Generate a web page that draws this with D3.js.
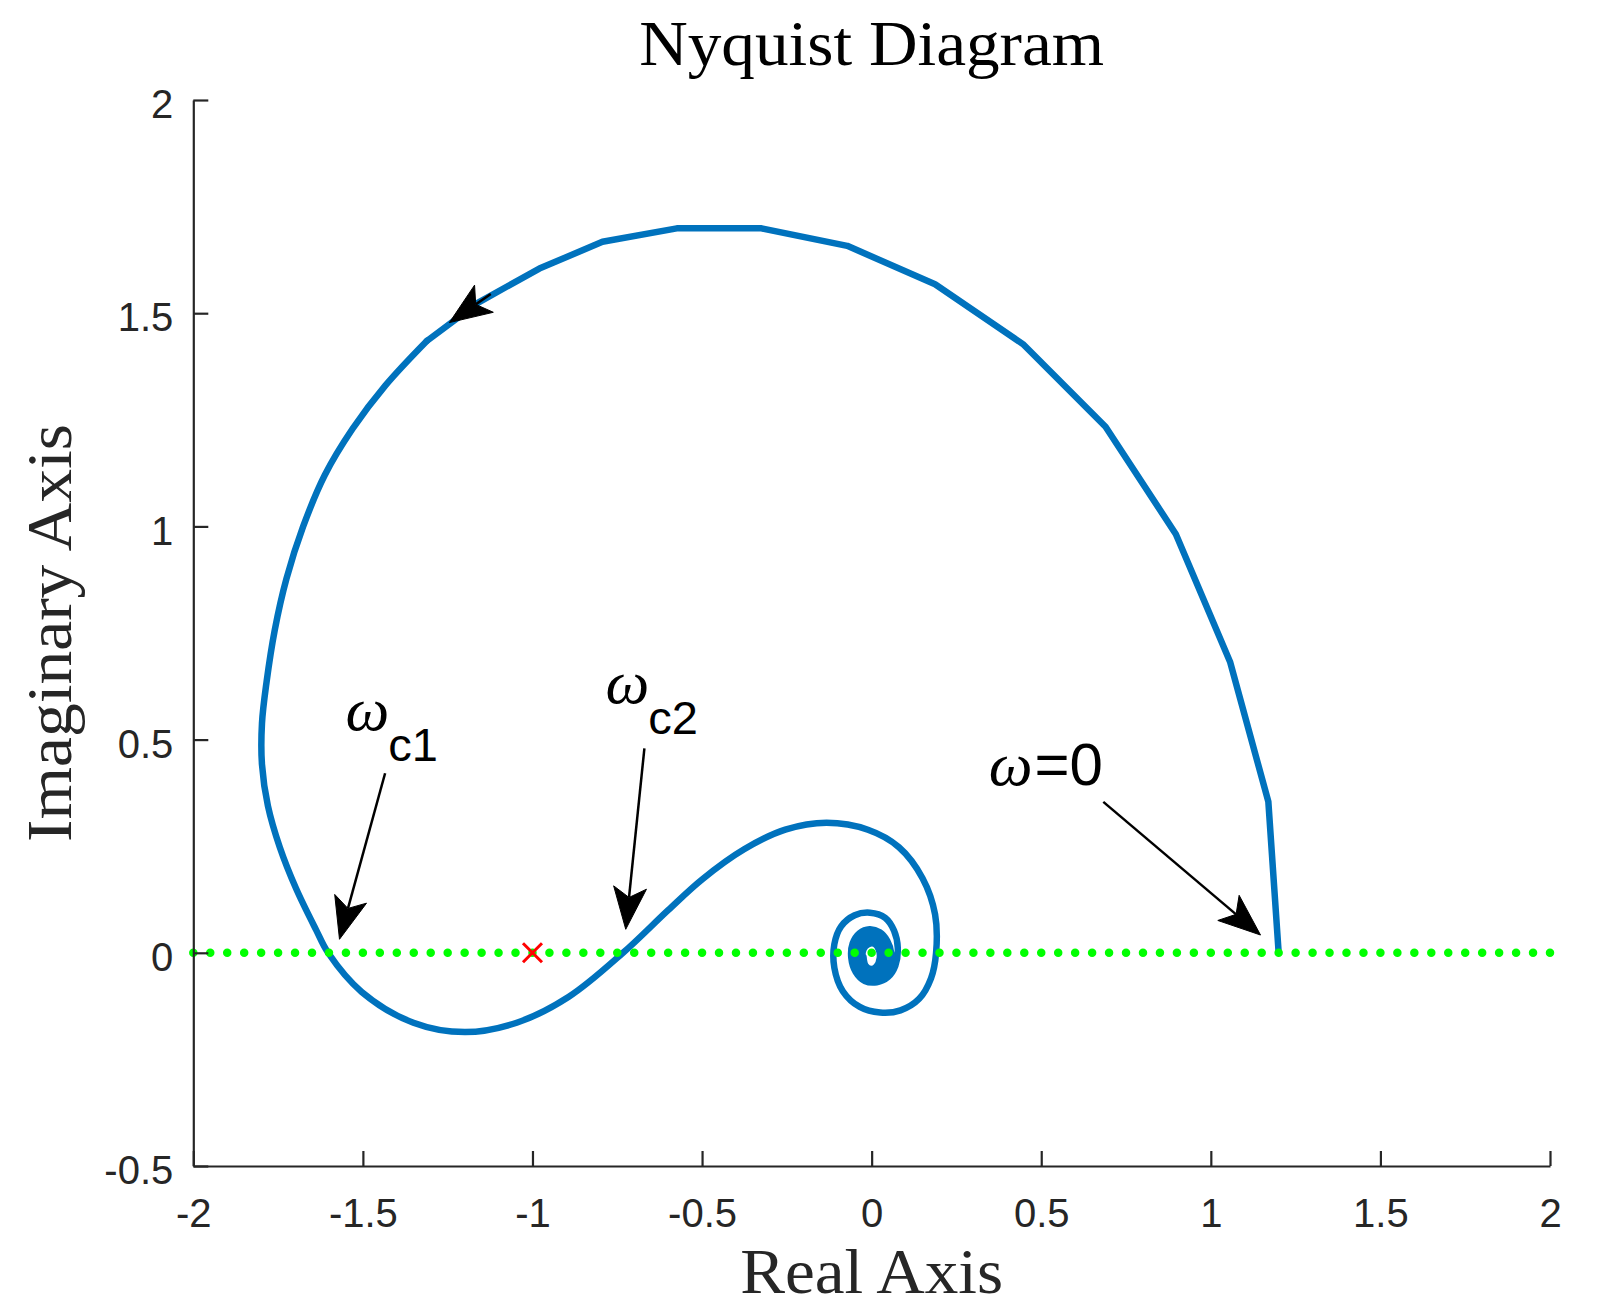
<!DOCTYPE html>
<html>
<head>
<meta charset="utf-8">
<script src="https://cdn.jsdelivr.net/npm/d3@7"></script>
<style>
  html, body { margin: 0; padding: 0; background: #fff; }
  svg { display: block; }
</style>
</head>
<body>
<svg id="chart" width="1620" height="1311"></svg>
<script>
// ---------------- data ----------------
// Nyquist curve (real, imaginary) – coarse low-frequency part drawn as polyline
const upperRe = [1.2, 1.1696, 1.0566, 0.897, 0.6896, 0.446, 0.187, -0.072, -0.3246, -0.5745, -0.7937, -0.9797, -1.16, -1.3116];
const upperIm = [0.0, 0.3544, 0.6827, 0.9817, 1.2338, 1.4276, 1.568, 1.658, 1.699, 1.699, 1.6675, 1.6046, 1.525, 1.4348];
// densely sampled part (smooth)
const lowerRe = [-1.3116, -1.4334, -1.5304, -1.6126, -1.6766, -1.7253, -1.760, -1.784, -1.7975, -1.7975, -1.780, -1.745, -1.697, -1.638, -1.6026,
  -1.5035, -1.351, -1.199, -1.0466, -0.894, -0.733, -0.6, -0.5, -0.376, -0.2547, -0.133, -0.011, 0.0805, 0.150, 0.187, 0.19,
  0.175, 0.14, 0.085, 0.025, -0.035, -0.085, -0.11, -0.11, -0.09, -0.05, -0.005, 0.04, 0.066, 0.077,
  0.07, 0.048, 0.015, -0.02, -0.047, -0.06, -0.056, -0.036, -0.006, 0.024, 0.046, 0.058,
  0.052, 0.032, 0.004, -0.024, -0.042, -0.046, -0.036, -0.014, 0.012, 0.033, 0.042,
  0.036, 0.018, -0.004, -0.024, -0.034, -0.033, -0.021, 0.0, 0.02, 0.03,
  0.028, 0.014, -0.004, -0.02, -0.027, -0.024, -0.01, 0.008, 0.021, 0.024, 0.014, -0.002, -0.018, -0.024];
const lowerIm = [1.4348, 1.3307, 1.2289, 1.1199, 0.9987, 0.8776, 0.7564, 0.6352, 0.5383, 0.4414, 0.3445, 0.2476, 0.1507, 0.0538, 0.0,
  -0.0917, -0.164, -0.186, -0.164, -0.1037, 0.0, 0.1, 0.172, 0.2427, 0.2887, 0.305, 0.2887, 0.2477, 0.175, 0.090, 0.0,
  -0.06, -0.108, -0.135, -0.14, -0.127, -0.09, -0.035, 0.02, 0.062, 0.088, 0.094, 0.082, 0.052, 0.012,
  -0.03, -0.057, -0.069, -0.066, -0.045, -0.012, 0.022, 0.046, 0.055, 0.048, 0.028, -0.002,
  -0.032, -0.053, -0.06, -0.05, -0.028, 0.0, 0.026, 0.04, 0.04, 0.025, 0.0,
  -0.028, -0.044, -0.048, -0.038, -0.018, 0.006, 0.024, 0.03, 0.022, 0.004,
  -0.02, -0.037, -0.041, -0.032, -0.012, 0.008, 0.02, 0.021, 0.008, -0.012, -0.032, -0.038, -0.03, -0.01];

// real-axis reference line and critical point
const refLineRe = [-2, 2];
const refDotStep = 0.05;
const criticalPoint = [-1, 0];

// annotation arrows (data units)
const arrowStartRe = [0.683, -1.4345, -0.670, -1.123];
const arrowStartIm = [0.354, 0.421, 0.4796, 1.545];
const arrowEndRe = [1.1465, -1.569, -0.725, -1.245];
const arrowEndIm = [0.0417, 0.0317, 0.0551, 1.478];

// annotation labels (data units, baseline of ω)
const labelRe = [0.345, -1.551, -0.785];
const labelIm = [0.3935, 0.5225, 0.5858];
const labelSub = ["", "c1", "c2"];
const labelRest = ["=0", "", ""];

// axes ticks
const xTicks = [-2, -1.5, -1, -0.5, 0, 0.5, 1, 1.5, 2];
const xTickLabels = ["-2", "-1.5", "-1", "-0.5", "0", "0.5", "1", "1.5", "2"];
const yTicks = [-0.5, 0, 0.5, 1, 1.5, 2];
const yTickLabels = ["-0.5", "0", "0.5", "1", "1.5", "2"];

const titleText = "Nyquist Diagram";
const xLabelText = "Real Axis";
const yLabelText = "Imaginary Axis";

// ---------------- drawing ----------------
const svg = d3.select("#chart");
const padL = 193.3, padR = 1550, padT = 100, padB = 1166;
const x = d3.scaleLinear().domain([-2, 2]).range([padL, padR]);
const y = d3.scaleLinear().domain([-0.5, 2]).range([padB, padT]);
const axisColor = "#262626";

// curve
const upper = upperRe.map((r, i) => [r, upperIm[i]]);
const lower = lowerRe.map((r, i) => [r, lowerIm[i]]);
const lineLin = d3.line().x(d => x(d[0])).y(d => y(d[1])).curve(d3.curveLinear);
const lineSmooth = d3.line().x(d => x(d[0])).y(d => y(d[1])).curve(d3.curveCatmullRom.alpha(0.5));
svg.append("path").attr("d", lineLin(upper)).attr("fill", "none")
  .attr("stroke", "#0072BD").attr("stroke-width", 6.5).attr("stroke-linejoin", "round").attr("stroke-linecap", "round");
svg.append("path").attr("d", lineSmooth(lower)).attr("fill", "none")
  .attr("stroke", "#0072BD").attr("stroke-width", 6.5).attr("stroke-linejoin", "round").attr("stroke-linecap", "round");

// dotted green real-axis line
const dotGap = x(refDotStep) - x(0);
svg.append("line")
  .attr("x1", x(refLineRe[0])).attr("x2", x(refLineRe[1]) + 1)
  .attr("y1", y(0)).attr("y2", y(0))
  .attr("stroke", "#00ff00").attr("stroke-width", 8.5)
  .attr("stroke-linecap", "round")
  .attr("stroke-dasharray", `0 ${dotGap}`);

// critical point marker
const cx = x(criticalPoint[0]), cy = y(criticalPoint[1]), cs = 9.5;
svg.append("path")
  .attr("d", `M${cx - cs},${cy - cs}L${cx + cs},${cy + cs}M${cx - cs},${cy + cs}L${cx + cs},${cy - cs}`)
  .attr("stroke", "#ff0000").attr("stroke-width", 3).attr("fill", "none");

// axes
const gx = svg.append("g").attr("transform", `translate(0,${padB})`)
  .call(d3.axisBottom(x).tickValues(xTicks).tickSizeInner(-15).tickSizeOuter(0).tickPadding(33)
    .tickFormat((d, i) => xTickLabels[i]));
const gy = svg.append("g").attr("transform", `translate(${padL},0)`)
  .call(d3.axisLeft(y).tickValues(yTicks).tickSizeInner(-15).tickSizeOuter(0).tickPadding(20)
    .tickFormat((d, i) => yTickLabels[i]));
[gx, gy].forEach(g => {
  g.select(".domain").attr("stroke", axisColor).attr("stroke-width", 2.2);
  g.selectAll(".tick line").attr("stroke", axisColor).attr("stroke-width", 2.2);
  g.selectAll(".tick text").attr("fill", axisColor)
    .style("font-family", "'Liberation Sans', Arial, Helvetica, sans-serif").style("font-size", "40px");
});
gy.selectAll(".tick text").attr("dy", "0.44em");
gx.selectAll(".tick text").attr("dy", "0.71em");

// titles
const serif = "'Liberation Serif', 'Times New Roman', serif";
svg.append("text").attr("x", (padL + padR) / 2).attr("y", 65).attr("text-anchor", "middle")
  .attr("textLength", 465).attr("lengthAdjust", "spacingAndGlyphs")
  .style("font-family", serif).style("font-size", "64px").attr("fill", "#000").text(titleText);
svg.append("text").attr("x", (padL + padR) / 2).attr("y", 1292.7).attr("text-anchor", "middle")
  .attr("textLength", 263).attr("lengthAdjust", "spacingAndGlyphs")
  .style("font-family", serif).style("font-size", "64px").attr("fill", axisColor).text(xLabelText);
svg.append("text").attr("transform", `translate(71,${(padT + padB) / 2}) rotate(-90)`).attr("text-anchor", "middle")
  .attr("textLength", 418).attr("lengthAdjust", "spacingAndGlyphs")
  .style("font-family", serif).style("font-size", "64px").attr("fill", axisColor).text(yLabelText);

// arrows
const headLen = 42, headHalf = 16.5, notch = 32;
arrowStartRe.forEach((sr, i) => {
  const x1 = x(sr), y1 = y(arrowStartIm[i]), x2 = x(arrowEndRe[i]), y2 = y(arrowEndIm[i]);
  const ang = Math.atan2(y2 - y1, x2 - x1);
  const ux = Math.cos(ang), uy = Math.sin(ang), px = -uy, py = ux;
  const bx = x2 - ux * headLen, by = y2 - uy * headLen;
  const nx = x2 - ux * notch, ny = y2 - uy * notch;
  svg.append("line").attr("x1", x1).attr("y1", y1).attr("x2", nx).attr("y2", ny)
    .attr("stroke", "#000").attr("stroke-width", 2.5);
  svg.append("path")
    .attr("d", `M${x2},${y2}L${bx + px * headHalf},${by + py * headHalf}L${nx},${ny}L${bx - px * headHalf},${by - py * headHalf}Z`)
    .attr("fill", "#000").attr("stroke", "#000").attr("stroke-width", 1).attr("stroke-linejoin", "miter");
});

// labels
labelRe.forEach((lr, i) => {
  const t = svg.append("text").attr("x", x(lr)).attr("y", y(labelIm[i])).attr("fill", "#000");
  t.append("tspan").style("font-family", serif).style("font-style", "italic").style("font-size", "62px").text("ω");
  if (labelRest[i]) {
    t.append("tspan").attr("dx", 2).style("font-family", "'Liberation Sans', Arial, sans-serif").style("font-size", "60px").text(labelRest[i]);
  }
  if (labelSub[i]) {
    t.append("tspan").attr("dx", -1).attr("dy", 31).style("font-family", "'Liberation Sans', Arial, sans-serif").style("font-size", "47px").text(labelSub[i]);
  }
});
</script>
</body>
</html>
